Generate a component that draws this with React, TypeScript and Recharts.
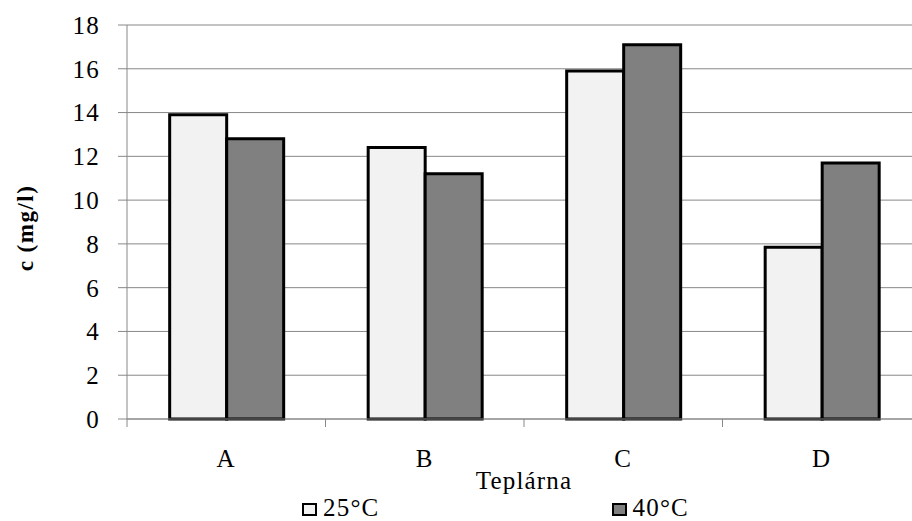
import React from "react";
import {
  BarChart,
  Bar,
  XAxis,
  YAxis,
  CartesianGrid,
  Legend,
} from "recharts";

const categories = ["A", "B", "C", "D"];
const temp25 = [13.9, 12.4, 15.9, 7.85];
const temp40 = [12.8, 11.2, 17.1, 11.7];
const yTicks = [0, 2, 4, 6, 8, 10, 12, 14, 16, 18];

const SERIES = [
  { key: "t25", name: "25°C", fill: "#f2f2f2" },
  { key: "t40", name: "40°C", fill: "#808080" },
];

const GRID = "#888888";
const FONT = "'Liberation Serif', 'Times New Roman', serif";

const data = categories.map((c, i) => ({
  name: c,
  t25: temp25[i],
  t40: temp40[i],
}));

function CategoryTick(props: any) {
  const { x, y, payload, index } = props;
  const off = payload.offset ?? 0;
  return (
    <g>
      <line x1={x - off} x2={x - off} y1={y} y2={y + 8} stroke={GRID} />
      {index === categories.length - 1 && (
        <line x1={x + off} x2={x + off} y1={y} y2={y + 8} stroke={GRID} />
      )}
      <text
        x={x}
        y={y + 48}
        textAnchor="middle"
        fill="#000"
        style={{ fontFamily: FONT, fontSize: 25, letterSpacing: 1.2 }}
      >
        {payload.value}
      </text>
    </g>
  );
}

function LegendContent() {
  return (
    <div
      style={{
        display: "flex",
        paddingLeft: 302,
        paddingTop: 4,
        fontFamily: FONT,
        lineHeight: "22px",
      }}
    >
      {SERIES.map((s) => (
        <div
          key={s.key}
          style={{ width: 328, display: "flex", alignItems: "center" }}
        >
          <span
            style={{
              display: "inline-block",
              width: 11,
              height: 9,
              border: "2px solid #000",
              background: s.fill,
              marginRight: 6,
              marginTop: 3,
            }}
          />
          <span style={{ fontSize: 25, letterSpacing: 1.2, color: "#000" }}>
            {s.name}
          </span>
        </div>
      ))}
    </div>
  );
}

export default function App() {
  return (
    <div
      style={{
        position: "absolute",
        left: 0,
        top: 0,
        width: 912,
        height: 521,
        overflow: "hidden",
        background: "#fff",
      }}
    >
      <BarChart
        width={930}
        height={521}
        data={data}
        margin={{ top: 25, right: 9, bottom: 0, left: 0 }}
        barCategoryGap="21.5%"
        barGap={0}
      >
        <CartesianGrid vertical={false} stroke={GRID} />
        <XAxis
          dataKey="name"
          height={74}
          tickSize={0}
          tickMargin={0}
          tickLine={false}
          axisLine={{ stroke: GRID }}
          tick={<CategoryTick />}
          label={{
            value: "Teplárna",
            position: "insideBottom",
            offset: 4,
            style: {
              fontFamily: FONT,
              fontSize: 25,
              letterSpacing: 1.2,
              fill: "#000",
            },
          }}
        />
        <YAxis
          width={127}
          domain={[0, 18]}
          ticks={yTicks}
          interval={0}
          tickSize={9}
          tickMargin={18}
          tickLine={{ stroke: GRID }}
          axisLine={{ stroke: GRID }}
          tick={{
            fill: "#000",
            fontSize: 25,
            fontFamily: FONT,
            style: { letterSpacing: 1.2 },
          }}
          label={{
            value: "c (mg/l)",
            angle: -90,
            position: "insideLeft",
            offset: 25,
            dy: 6,
            style: {
              textAnchor: "middle",
              fontFamily: FONT,
              fontSize: 23,
              fontWeight: "bold",
              letterSpacing: 1.5,
              fill: "#000",
            },
          }}
        />
        <Legend
          verticalAlign="bottom"
          height={28}
          content={<LegendContent />}
        />
        {SERIES.map((s) => (
          <Bar
            key={s.key}
            dataKey={s.key}
            name={s.name}
            fill={s.fill}
            stroke="#000"
            strokeWidth={3}
            isAnimationActive={false}
          />
        ))}
      </BarChart>
    </div>
  );
}
